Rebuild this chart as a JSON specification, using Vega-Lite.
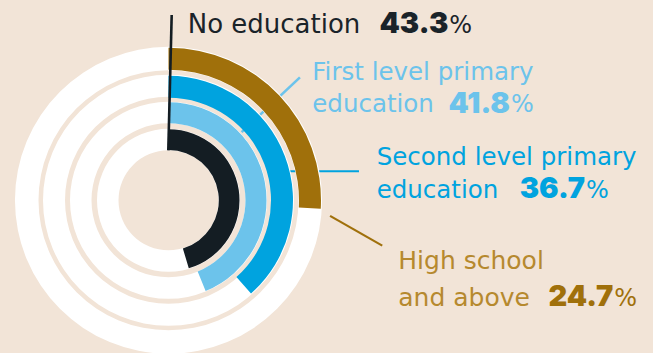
{
  "$schema": "https://vega.github.io/schema/vega-lite/v6.json",
  "width": 653,
  "height": 353,
  "autosize": {"type": "fit", "contains": "padding"},
  "padding": 0,
  "background": "#f2e4d7",
  "config": {"view": {"stroke": null}, "axis": {"disable": true}, "text": {"font": "DejaVu Sans"}},
  "data": {"values": [
    {"category": "No education", "line1": "No education", "line2": "", "value": 43.3, "ring": 4},
    {"category": "First level primary education", "line1": "First level primary", "line2": "education", "value": 41.8, "ring": 3},
    {"category": "Second level primary education", "line1": "Second level primary", "line2": "education", "value": 36.7, "ring": 2},
    {"category": "High school and above", "line1": "High school", "line2": "and above", "value": 24.7, "ring": 1}
  ]},
  "layer": [
    {
      "transform": [{"filter": "datum.ring == 3"}],
      "mark": {"type": "rule", "color": "#6cc3eb", "strokeWidth": 2.6},
      "encoding": {
        "x": {"datum": 47.8, "type": "quantitative", "scale": {"domain": [-110.13, 316.67], "nice": false, "zero": false}},
        "y": {"datum": 44.9, "type": "quantitative", "scale": {"domain": [-98.69, 132.03], "nice": false, "zero": false}},
        "x2": {"datum": 85.9},
        "y2": {"datum": 81.0}
      }
    },
    {
      "transform": [{"filter": "datum.ring == 2"}],
      "mark": {"type": "rule", "color": "#00a3df", "strokeWidth": 2.2},
      "encoding": {
        "x": {"datum": 79.4, "type": "quantitative"},
        "y": {"datum": 19.15, "type": "quantitative"},
        "x2": {"datum": 124.5},
        "y2": {"datum": 19.15}
      }
    },
    {
      "transform": [{"filter": "datum.ring == 1"}],
      "mark": {"type": "rule", "color": "#a0700b", "strokeWidth": 2.2},
      "encoding": {
        "x": {"datum": 105.6, "type": "quantitative"},
        "y": {"datum": -10.26, "type": "quantitative"},
        "x2": {"datum": 139.7},
        "y2": {"datum": -29.9}
      }
    },
    {
      "transform": [{"filter": "datum.ring == 1"}],
      "layer": [
        {"mark": {"type": "arc", "fill": "#ffffff", "radius": 153.5, "radius2": 130, "theta": 0, "theta2": 6.2832},
         "encoding": {"x": {"datum": 0, "type": "quantitative"}, "y": {"datum": 0, "type": "quantitative"}}},
        {"mark": {"type": "arc", "radius": 152.5, "radius2": 130.5},
         "encoding": {
           "x": {"datum": 0, "type": "quantitative"}, "y": {"datum": 0, "type": "quantitative"},
           "theta": {"field": "value", "type": "quantitative", "stack": null, "scale": {"domain": [0, 95.4], "range": [0, 6.2832]}},
           "theta2": {"datum": 0},
           "fill": {"field": "category", "type": "nominal", "legend": null,
             "scale": {"domain": ["No education", "First level primary education", "Second level primary education", "High school and above"],
                       "range": ["#141d23", "#6cc3eb", "#00a3df", "#a0700b"]}}
         }}
      ]
    },
    {
      "transform": [{"filter": "datum.ring == 2"}],
      "layer": [
        {"mark": {"type": "arc", "fill": "#ffffff", "radius": 125.5, "radius2": 103.5, "theta": 0, "theta2": 6.2832},
         "encoding": {"x": {"datum": 0, "type": "quantitative"}, "y": {"datum": 0, "type": "quantitative"}}},
        {"mark": {"type": "arc", "radius": 124.5, "radius2": 102.5},
         "encoding": {
           "x": {"datum": 0, "type": "quantitative"}, "y": {"datum": 0, "type": "quantitative"},
           "theta": {"field": "value", "type": "quantitative", "stack": null},
           "theta2": {"datum": 0},
           "fill": {"field": "category", "type": "nominal", "legend": null}
         }}
      ]
    },
    {
      "transform": [{"filter": "datum.ring == 3"}],
      "layer": [
        {"mark": {"type": "arc", "fill": "#ffffff", "radius": 98.5, "radius2": 77, "theta": 0, "theta2": 6.2832},
         "encoding": {"x": {"datum": 0, "type": "quantitative"}, "y": {"datum": 0, "type": "quantitative"}}},
        {"mark": {"type": "arc", "radius": 98, "radius2": 77},
         "encoding": {
           "x": {"datum": 0, "type": "quantitative"}, "y": {"datum": 0, "type": "quantitative"},
           "theta": {"field": "value", "type": "quantitative", "stack": null},
           "theta2": {"datum": 0},
           "fill": {"field": "category", "type": "nominal", "legend": null}
         }}
      ]
    },
    {
      "transform": [{"filter": "datum.ring == 4"}],
      "layer": [
        {"mark": {"type": "arc", "fill": "#ffffff", "radius": 71.5, "radius2": 50, "theta": 0, "theta2": 6.2832},
         "encoding": {"x": {"datum": 0, "type": "quantitative"}, "y": {"datum": 0, "type": "quantitative"}}},
        {"mark": {"type": "arc", "radius": 71, "radius2": 50.3},
         "encoding": {
           "x": {"datum": 0, "type": "quantitative"}, "y": {"datum": 0, "type": "quantitative"},
           "theta": {"field": "value", "type": "quantitative", "stack": null},
           "theta2": {"datum": 0},
           "fill": {"field": "category", "type": "nominal", "legend": null}
         }}
      ]
    },
    {
      "transform": [{"filter": "datum.ring == 4"}],
      "mark": {"type": "rule", "color": "#141d23", "strokeWidth": 2.6},
      "encoding": {
        "x": {"datum": -0.13, "type": "quantitative"},
        "y": {"datum": 32.9, "type": "quantitative"},
        "x2": {"datum": 2.09},
        "y2": {"datum": 122.2}
      }
    },
    {
      "transform": [{"filter": "datum.ring == 4"}],
      "layer": [
        {"mark": {"type": "text", "align": "left", "baseline": "alphabetic", "fontSize": 26, "color": "#1a2329"},
         "encoding": {"x": {"datum": 12.55, "type": "quantitative"}, "y": {"datum": 110.26, "type": "quantitative"}, "text": {"field": "line1"}}},
        {"mark": {"type": "text", "align": "right", "baseline": "alphabetic", "font": "Inter", "fontSize": 29, "fontWeight": 900, "color": "#1a2329"},
         "encoding": {"x": {"datum": 182.88, "type": "quantitative"}, "y": {"datum": 110.26, "type": "quantitative"}, "text": {"field": "value", "format": ".1f"}}},
        {"mark": {"type": "text", "align": "left", "baseline": "alphabetic", "fontSize": 24, "color": "#1a2329", "dx": 1, "text": "%"},
         "encoding": {"x": {"datum": 182.88, "type": "quantitative"}, "y": {"datum": 110.26, "type": "quantitative"}}}
      ]
    },
    {
      "transform": [{"filter": "datum.ring == 3"}],
      "layer": [
        {"mark": {"type": "text", "align": "left", "baseline": "alphabetic", "fontSize": 24.5, "color": "#6cc3eb"},
         "encoding": {"x": {"datum": 93.99, "type": "quantitative"}, "y": {"datum": 79.0, "type": "quantitative"}, "text": {"field": "line1"}}},
        {"mark": {"type": "text", "align": "left", "baseline": "alphabetic", "fontSize": 24.5, "color": "#6cc3eb"},
         "encoding": {"x": {"datum": 93.99, "type": "quantitative"}, "y": {"datum": 57.97, "type": "quantitative"}, "text": {"field": "line2"}}},
        {"mark": {"type": "text", "align": "right", "baseline": "alphabetic", "font": "Inter", "fontSize": 29, "fontWeight": 900, "color": "#6cc3eb"},
         "encoding": {"x": {"datum": 223.2, "type": "quantitative"}, "y": {"datum": 57.6, "type": "quantitative"}, "text": {"field": "value", "format": ".1f"}}},
        {"mark": {"type": "text", "align": "left", "baseline": "alphabetic", "fontSize": 24, "color": "#6cc3eb", "dx": 1, "text": "%"},
         "encoding": {"x": {"datum": 223.2, "type": "quantitative"}, "y": {"datum": 57.97, "type": "quantitative"}}}
      ]
    },
    {
      "transform": [{"filter": "datum.ring == 2"}],
      "layer": [
        {"mark": {"type": "text", "align": "left", "baseline": "alphabetic", "fontSize": 24.5, "color": "#00a3df"},
         "encoding": {"x": {"datum": 136.08, "type": "quantitative"}, "y": {"datum": 23.07, "type": "quantitative"}, "text": {"field": "line1"}}},
        {"mark": {"type": "text", "align": "left", "baseline": "alphabetic", "fontSize": 24.5, "color": "#00a3df"},
         "encoding": {"x": {"datum": 136.08, "type": "quantitative"}, "y": {"datum": 1.31, "type": "quantitative"}, "text": {"field": "line2"}}},
        {"mark": {"type": "text", "align": "right", "baseline": "alphabetic", "font": "Inter", "fontSize": 29, "fontWeight": 900, "color": "#00a3df"},
         "encoding": {"x": {"datum": 272.2, "type": "quantitative"}, "y": {"datum": 1.31, "type": "quantitative"}, "text": {"field": "value", "format": ".1f"}}},
        {"mark": {"type": "text", "align": "left", "baseline": "alphabetic", "fontSize": 24, "color": "#00a3df", "dx": 1, "text": "%"},
         "encoding": {"x": {"datum": 272.2, "type": "quantitative"}, "y": {"datum": 1.31, "type": "quantitative"}}}
      ]
    },
    {
      "transform": [{"filter": "datum.ring == 1"}],
      "layer": [
        {"mark": {"type": "text", "align": "left", "baseline": "alphabetic", "fontSize": 25, "color": "#b6892e"},
         "encoding": {"x": {"datum": 150.2, "type": "quantitative"}, "y": {"datum": -45.56, "type": "quantitative"}, "text": {"field": "line1"}}},
        {"mark": {"type": "text", "align": "left", "baseline": "alphabetic", "fontSize": 25, "color": "#b6892e"},
         "encoding": {"x": {"datum": 150.2, "type": "quantitative"}, "y": {"datum": -69.48, "type": "quantitative"}, "text": {"field": "line2"}}},
        {"mark": {"type": "text", "align": "right", "baseline": "alphabetic", "font": "Inter", "fontSize": 29, "fontWeight": 900, "color": "#a0700b"},
         "encoding": {"x": {"datum": 290.7, "type": "quantitative"}, "y": {"datum": -69.48, "type": "quantitative"}, "text": {"field": "value", "format": ".1f"}}},
        {"mark": {"type": "text", "align": "left", "baseline": "alphabetic", "fontSize": 24, "color": "#a0700b", "dx": 1, "text": "%"},
         "encoding": {"x": {"datum": 290.7, "type": "quantitative"}, "y": {"datum": -69.48, "type": "quantitative"}}}
      ]
    }
  ]
}
